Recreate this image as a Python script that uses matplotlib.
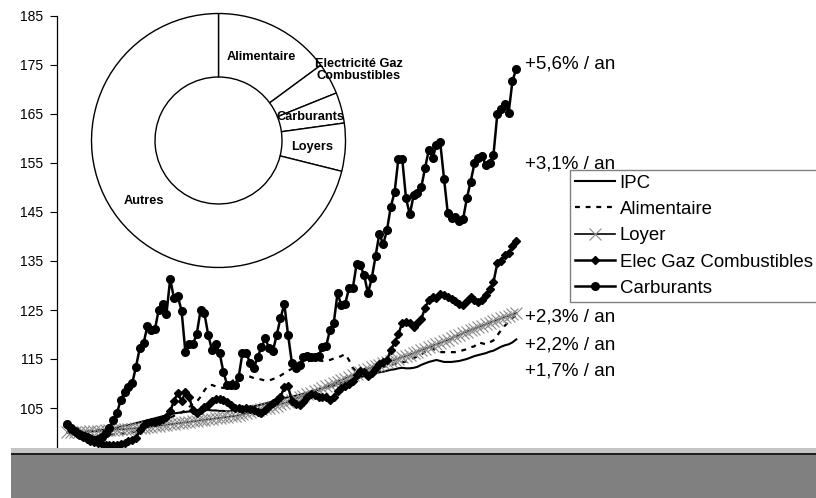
import numpy as np
import matplotlib.pyplot as plt
from matplotlib.patches import Rectangle

plt.rcParams["font.family"] = ["Liberation Sans", "DejaVu Sans"]

# indices mensuels (base 100)
carburants = [
    101.8, 101.0, 100.3, 99.7, 99.3, 99.0, 98.7, 98.5, 98.6, 99.0, 99.8, 101.0,
    102.6, 104.0, 106.6, 108.3, 109.3, 110.0, 113.4, 117.2, 118.2, 121.7,
    120.9, 121.1, 125.1, 126.3, 124.1, 131.3, 127.4, 127.8, 124.8, 116.4,
    118.0, 118.0, 120.2, 125.0, 124.3, 119.9, 116.8, 118.0, 116.2, 112.3,
    109.7, 109.7, 109.7, 111.3, 116.2, 116.2, 114.2, 113.1, 115.4, 117.4,
    119.2, 117.2, 116.6, 119.9, 123.3, 126.2, 119.9, 114.2, 113.1, 113.8,
    115.4, 115.6, 115.4, 115.4, 115.6, 117.4, 117.6, 120.9, 122.3, 128.4,
    126.0, 126.2, 129.4, 129.4, 134.3, 134.1, 132.1, 128.4, 131.5, 136.0,
    140.6, 138.4, 141.3, 146.1, 149.0, 155.9, 155.9, 147.8, 144.5, 148.4,
    148.8, 150.0, 153.9, 157.7, 156.1, 158.6, 159.2, 151.8, 144.7, 143.7,
    143.9, 143.1, 143.5, 147.8, 151.2, 154.9, 156.1, 156.5, 154.5, 155.1,
    156.7, 164.9, 166.1, 167.1, 165.3, 171.8, 174.2,
]
elec_gaz = [
    101.5, 100.8, 100.0, 99.4, 99.0, 98.6, 98.3, 98.0, 97.8, 97.6, 97.5, 97.4,
    97.4, 97.5, 97.7, 97.9, 98.2, 98.5, 98.8, 100.5, 101.6, 102.0, 102.1,
    102.2, 102.3, 102.8, 103.2, 104.3, 106.5, 108.0, 106.4, 108.2, 107.2,
    104.5, 104.0, 104.6, 105.2, 105.7, 106.4, 106.9, 106.9, 106.6, 106.3,
    105.6, 105.1, 104.9, 104.8, 105.0, 104.8, 104.5, 104.2, 104.0, 104.6,
    105.4, 106.0, 106.7, 107.3, 109.2, 109.4, 106.4, 105.8, 105.6, 106.2,
    107.2, 107.8, 107.7, 107.3, 107.2, 107.3, 106.7, 107.3, 108.4, 109.1,
    109.5, 109.9, 110.6, 111.7, 112.5, 112.3, 111.6, 112.2, 113.2, 113.9,
    114.3, 114.8, 116.8, 118.4, 120.0, 122.4, 122.6, 122.3, 121.6, 122.4,
    123.1, 125.4, 127.0, 127.6, 127.4, 128.2, 128.0, 127.6, 127.2, 126.8,
    126.2, 126.1, 126.8, 127.6, 127.0, 126.7, 127.0, 128.0, 129.2, 130.7,
    134.5, 135.0, 136.2, 136.6, 138.0, 139.0,
]
ipc = [
    100.0, 100.0, 99.9, 99.9, 100.0, 100.1, 100.2, 100.3, 100.4, 100.5,
    100.6, 100.7, 100.9, 101.0, 101.2, 101.4, 101.5, 101.7, 101.9, 102.1,
    102.3, 102.5, 102.7, 102.9, 103.1, 103.3, 103.5, 103.7, 103.9, 104.0,
    104.1, 104.2, 104.3, 104.3, 104.4, 104.4, 104.5, 104.6, 104.5, 104.5,
    104.4, 104.4, 104.3, 104.4, 104.6, 104.8, 104.9, 105.1, 105.2, 105.4,
    105.5, 105.7, 105.9, 106.1, 106.4, 106.6, 106.8, 107.0, 107.2, 107.3,
    107.5, 107.7, 107.9, 108.1, 108.3, 108.6, 108.8, 109.0, 109.2, 109.4,
    109.6, 109.9, 110.1, 110.4, 110.6, 110.8, 111.0, 111.3, 111.5, 111.7,
    111.9, 112.1, 112.3, 112.4, 112.6, 112.8, 112.9, 113.1, 113.2, 113.1,
    113.1, 113.2, 113.4, 113.8, 114.1, 114.4, 114.6, 114.8, 114.6, 114.4,
    114.4, 114.4, 114.5, 114.6, 114.8, 115.0, 115.3, 115.6, 115.8, 116.0,
    116.2, 116.5, 116.7, 117.1, 117.5, 117.8, 118.0, 118.4, 119.0,
]
alimentaire = [
    100.0, 99.8, 99.7, 99.6, 99.5, 99.4, 99.4, 99.3, 99.3, 99.4, 99.5, 99.6,
    99.6, 99.7, 99.8, 99.8, 99.9, 100.0, 100.3, 100.6, 100.9, 101.3, 101.7,
    102.0, 102.1, 102.3, 102.6, 103.0, 103.4, 103.8, 104.1, 104.5, 105.2,
    105.8, 106.3, 107.3, 108.6, 109.6, 109.7, 109.4, 109.2, 109.1, 109.5,
    110.3, 110.9, 111.3, 111.5, 111.6, 111.4, 111.1, 111.0, 110.8, 110.6,
    110.6, 110.9, 111.2, 111.6, 112.1, 112.6, 113.0, 113.4, 113.8, 114.2,
    114.5, 114.7, 114.8, 114.7, 114.6, 114.6, 114.8, 115.1, 115.3, 115.6,
    116.0, 114.8, 113.2, 112.4, 112.3, 112.4, 112.6, 112.8, 113.0, 113.2,
    113.4, 113.6, 113.8, 114.0, 114.2, 114.3, 114.5, 114.8, 115.2, 115.5,
    115.9, 116.5, 117.0, 117.2, 116.6, 116.4, 116.4, 116.4, 116.4, 116.4,
    116.5, 116.8, 117.0, 117.4, 117.6, 118.4, 118.2, 118.0, 118.4, 118.8,
    119.8, 120.9, 121.8, 122.6, 123.4, 124.0,
]
loyer = [
    100.0, 100.0, 100.1, 100.1, 100.2, 100.2, 100.3, 100.3, 100.4, 100.4,
    100.5, 100.5, 100.6, 100.6, 100.7, 100.7, 100.8, 100.8, 100.9, 100.9,
    101.0, 101.1, 101.2, 101.3, 101.4, 101.5, 101.6, 101.7, 101.8, 101.9,
    102.0, 102.1, 102.2, 102.3, 102.4, 102.5, 102.6, 102.7, 102.8, 102.9,
    103.0, 103.1, 103.2, 103.3, 103.4, 103.5, 103.7, 103.9, 104.1, 104.3,
    104.5, 104.7, 104.9, 105.1, 105.3, 105.5, 105.8, 106.0, 106.3, 106.6,
    106.9, 107.2, 107.5, 107.8, 108.1, 108.4, 108.7, 109.0, 109.4, 109.7,
    110.0, 110.4, 110.7, 111.0, 111.4, 111.7, 112.0, 112.4, 112.7, 113.0,
    113.3, 113.6, 113.8, 114.1, 114.3, 114.6, 114.8, 115.1, 115.4, 115.6,
    115.9, 116.2, 116.5, 116.8, 117.1, 117.4, 117.7, 118.0, 118.3, 118.6,
    118.9, 119.2, 119.6, 119.9, 120.3, 120.6, 120.9, 121.2, 121.5, 121.8,
    122.1, 122.4, 122.7, 123.0, 123.3, 123.6, 123.8, 124.1, 124.4,
]

growth_labels = ["+5,6% / an", "+3,1% / an", "+2,3% / an", "+2,2% / an", "+1,7% / an"]
growth_label_y = [174.2, 153.9, 122.6, 117.0, 111.7]

# poids dans l'IPC (anneau)
poids_labels = ["Alimentaire", "Electricité Gaz\nCombustibles", "Carburants", "Loyers", "Autres"]
poids = [14.9, 4.0, 3.9, 6.1, 71.1]


def main():
    W, H = 816, 498
    fig = plt.figure(figsize=(W / 100, H / 100), dpi=100)
    ax = fig.add_axes([57 / W, 1 - 457 / H, (W - 57) / W, (457 - 16) / H])

    x = np.arange(len(carburants))
    ax.plot(x, ipc, color="black", lw=1.5, label="IPC", zorder=3)
    ax.plot(x, alimentaire, color="black", lw=1.6, ls=(0, (2.2, 2.6)),
            label="Alimentaire", zorder=3)
    ax.plot(x, loyer, color="black", lw=1.2, marker="x", ms=9,
            mec="#8c8c8c", mew=0.8, label="Loyer", zorder=4)
    ax.plot(x, elec_gaz, color="black", lw=1.8, marker="D", ms=4.5,
            label="Elec Gaz Combustibles", zorder=5)
    ax.plot(x, carburants, color="black", lw=1.8, marker="o", ms=5.5,
            label="Carburants", zorder=6)

    for txt, yv in zip(growth_labels, growth_label_y):
        ax.text(x[-1] + 2.4, yv, txt, fontsize=13.5, va="baseline", ha="left", zorder=7)

    ax.set_xlim(-2.76, 196.8)
    ax.set_ylim(95, 185)
    ax.set_yticks(np.arange(95, 186, 10))
    ax.set_xticks([])
    ax.tick_params(axis="y", direction="out", length=5, width=0.8, labelsize=10, pad=5)
    for side in ("top", "right"):
        ax.spines[side].set_visible(False)
    ax.spines["left"].set_linewidth(0.9)

    leg = ax.legend(loc="upper left", bbox_to_anchor=(570 / W, 1 - 170 / H),
                    bbox_transform=fig.transFigure, fontsize=13.4, frameon=True,
                    fancybox=False, framealpha=1, edgecolor="#808080",
                    borderpad=0.25, handlelength=2.15, handletextpad=0.27,
                    labelspacing=0.5, borderaxespad=0)
    leg.get_frame().set_linewidth(1.0)
    leg.set_zorder(10)

    # anneau des poids
    r = 127.5
    cx, cy = 218.5, 140.5
    pax = fig.add_axes([(cx - r) / W, 1 - (cy + r) / H, 2 * r / W, 2 * r / H])
    pax.pie(poids, startangle=90, counterclock=False, radius=1,
            colors=["white"] * len(poids),
            wedgeprops=dict(width=0.5, edgecolor="black", linewidth=1.0))
    pax.set_xlim(-1.004, 1.004)
    pax.set_ylim(-1.004, 1.004)
    pax.set_aspect("equal")
    pax.axis("off")
    label_pos = [(262, 57), (359, 70), (311, 117), (313, 147), (144, 201)]
    for txt, (px, py) in zip(poids_labels, label_pos):
        pax.text((px - cx) / r, -(py - cy) / r, txt, fontsize=9.2, fontweight="bold",
                 ha="center", va="center", linespacing=1.0, clip_on=False)

    # bande grise du bas (scan)
    fig.patches.append(Rectangle((11 / W, 0), 1, (H - 455) / H, transform=fig.transFigure,
                                 facecolor="#808080", edgecolor="none", zorder=20))
    fig.patches.append(Rectangle((11 / W, (H - 455) / H), 1, 2 / H, transform=fig.transFigure,
                                 facecolor="#1e1e1e", edgecolor="none", zorder=20))
    fig.patches.append(Rectangle((11 / W, (H - 453) / H), 1, 5 / H, transform=fig.transFigure,
                                 facecolor="#c4c4c4", edgecolor="none", zorder=20))

    fig.savefig("out.png", dpi=100)
    plt.close(fig)


if __name__ == "__main__":
    main()
